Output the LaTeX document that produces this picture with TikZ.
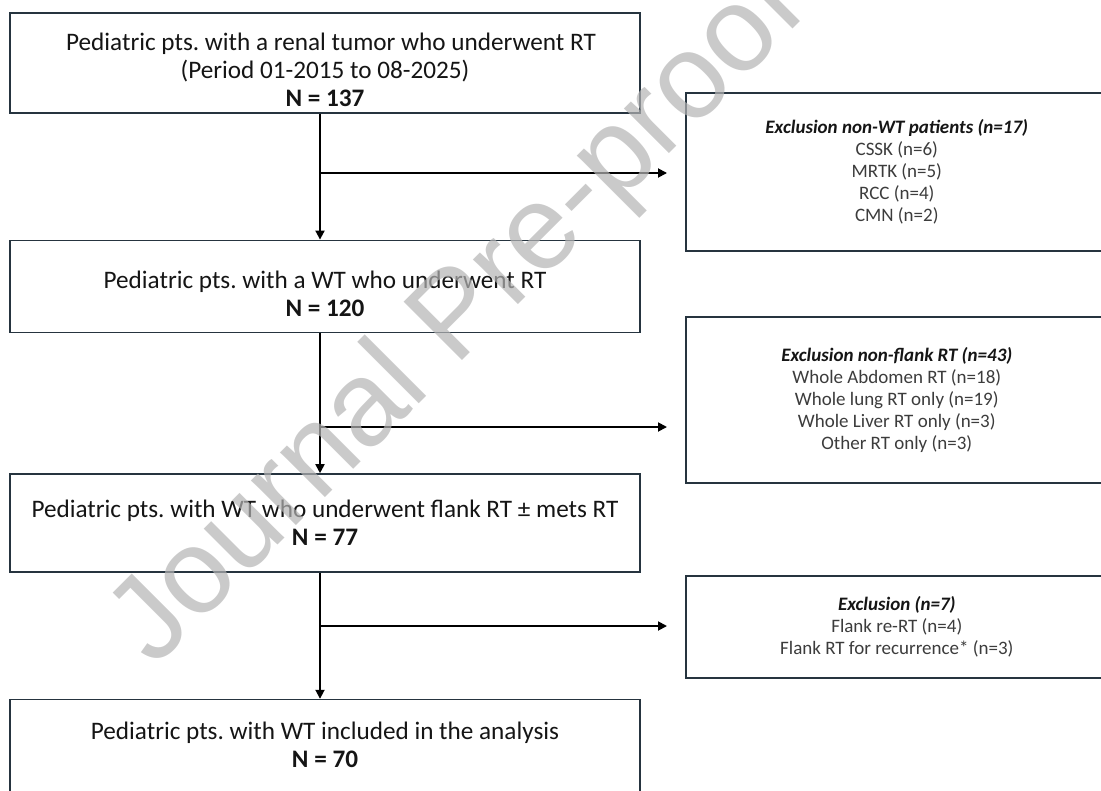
\documentclass[tikz,border=0pt]{standalone}
\usepackage{fontspec}
\setmainfont{Carlito}
\newfontfamily\marquefont{Liberation Sans}
\usetikzlibrary{arrows.meta, positioning}
\frenchspacing
\definecolor{cadre}{HTML}{26343F}
\definecolor{texte}{HTML}{151515}
\definecolor{detail}{HTML}{3C3C3C}
\definecolor{filigrane}{HTML}{B4B4B4}
\newcommand{\titreexclu}[1]{\textcolor{texte}{\textbf{\textit{#1}}}}
\newcommand{\hautligne}[1]{\rule{0pt}{#1}}
\newcommand{\basligne}[1]{\rule[-#1]{0pt}{0pt}}
\tikzset{
  etape/.style={rectangle, draw=cadre, line width=0.8pt, fill=white,
    text=texte, font=\fontsize{12.6}{14}\selectfont, minimum width=315pt,
    align=center, inner sep=0pt},
  exclu/.style={rectangle, draw=cadre, line width=0.8pt, fill=white,
    text=detail, font=\fontsize{9.5}{11}\selectfont, minimum width=211pt,
    align=center, inner sep=0pt},
  fleche/.style={-{Triangle[length=4.5pt, width=4.5pt]}, line width=0.9pt, color=black},
  marque/.style={font=\marquefont\fontsize{60}{60}\selectfont, text=filigrane,
    opacity=0.7, rotate=45}
}

\begin{document}
\begin{tikzpicture}
    \useasboundingbox (0,0) rectangle (550.5pt,-395.5pt);

    % Etapes de selection
    \node[etape, minimum height=50pt, anchor=north] (tot) at (162.5pt,-6pt)
      {\hautligne{16pt}\hspace{6pt}Pediatric pts. with a renal tumor who underwent RT\\
       (Period 01-2015 to 08-2025)\\ \textbf{N = 137}};
    \node[etape, minimum height=46pt, below=63pt of tot] (wt)
      {\hautligne{16pt}Pediatric pts. with a WT who underwent RT\\ \textbf{N = 120}};
    \node[etape, minimum height=49pt, below=70pt of wt] (flanc)
      {Pediatric pts. with WT who underwent flank RT ± mets RT\\ \textbf{N = 77}};
    \node[etape, minimum height=50pt, below=63pt of flanc] (incl)
      {Pediatric pts. with WT included in the analysis\\ \textbf{N = 70}\basligne{5pt}};

    % Exclusions
    \node[exclu, minimum height=79pt, anchor=north west] (exwt) at (342.5pt,-46pt)
      {\titreexclu{Exclusion non-WT patients (n=17)}\\ CSSK (n=6)\\ MRTK (n=5)\\
       RCC (n=4)\\ CMN (n=2)};
    \node[exclu, minimum height=83pt, anchor=north west] (exflanc) at (342.5pt,-158pt)
      {\titreexclu{Exclusion non-flank RT (n=43)}\\ Whole Abdomen RT (n=18)\\
       Whole lung RT only (n=19)\\ Whole Liver RT only (n=3)\\ Other RT only (n=3)};
    \node[exclu, minimum height=51pt, anchor=north west] (exre) at (342.5pt,-287.5pt)
      {\titreexclu{Exclusion (n=7)}\\ Flank re-RT (n=4)\\
       Flank RT for recurrence* (n=3)};

    % Points de branchement sur l'axe
    \coordinate (br1) at (160pt,-86.5pt);
    \coordinate (br2) at (160pt,-213.5pt);
    \coordinate (br3) at (160pt,-313pt);

    \draw[fleche] (tot.south -| br1) -- (wt.north -| br1);
    \draw[fleche] (wt.south -| br2) -- (flanc.north -| br2);
    \draw[fleche] (flanc.south -| br3) -- (incl.north -| br3);
    \draw[fleche, shorten >=9pt] (br1) -- (br1 -| exwt.west);
    \draw[fleche, shorten >=9pt] (br2) -- (br2 -| exflanc.west);
    \draw[fleche, shorten >=9pt] (br3) -- (br3 -| exre.west);

    % Filigrane
    \node[marque] (fil) at (230pt,-159.5pt) {Journal Pre-proof};
\end{tikzpicture}
\end{document}
